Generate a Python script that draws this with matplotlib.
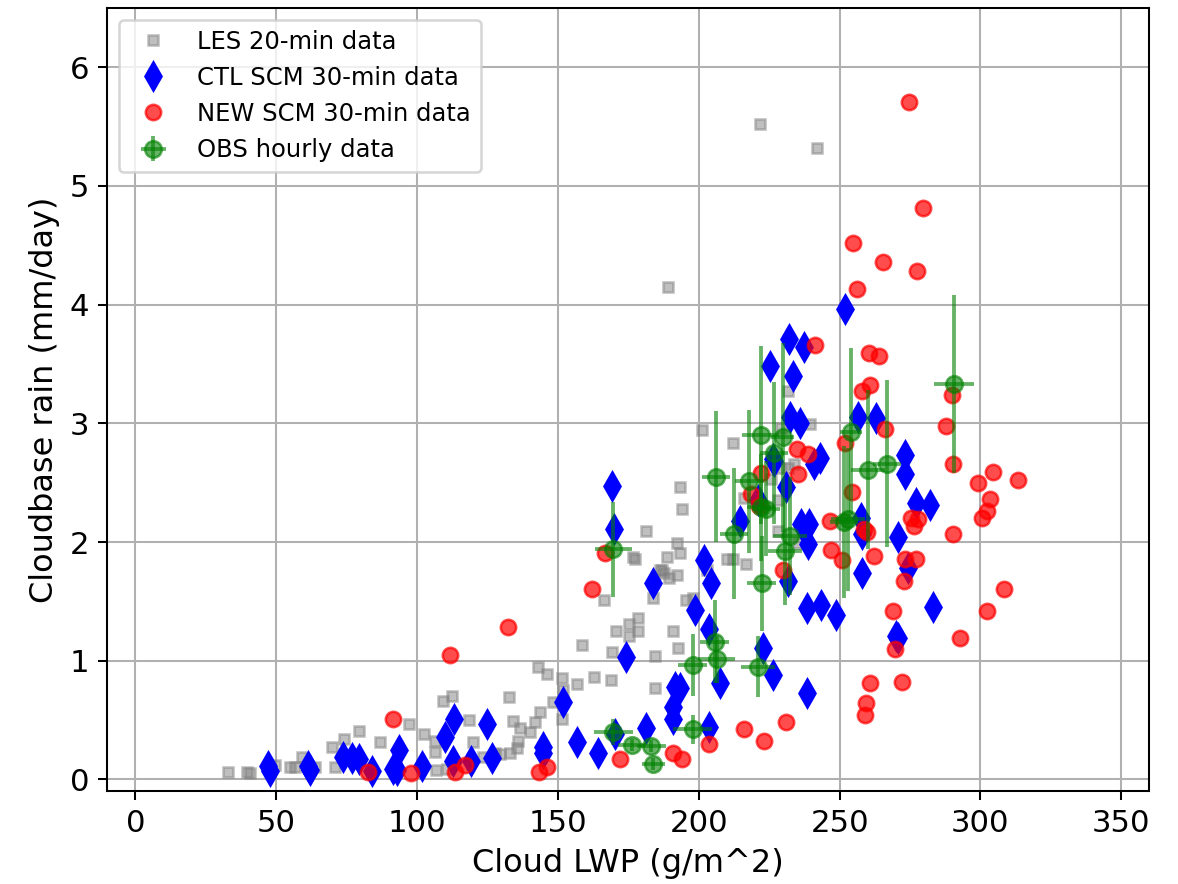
import numpy as np
import matplotlib
matplotlib.use("Agg")
import matplotlib.pyplot as plt

# LES 20-min data
les_lwp = [32.7, 39.5, 40.5, 49.4, 54.8, 56.6, 59.0, 63.7, 69.7, 70.8, 74.0, 79.3, 78.6,
           86.8, 97.1, 102.4, 106.4, 106.4, 109.2, 112.4, 118.5, 119.9, 106.7, 110.6,
           123.4, 127.7, 129.5, 133.0, 135.5, 135.9, 140.2, 136.6, 134.1, 142.0, 143.7,
           151.5, 148.3, 151.9, 132.7, 184.6, 169.0, 162.9, 156.9, 151.5, 146.2, 143.0,
           184.3, 192.8, 169.3, 158.6, 190.7, 170.7, 178.6, 175.4, 175.4, 178.6, 198.1,
           195.3, 183.9, 166.5, 192.4, 189.6, 187.5, 187.1, 177.2, 188.9, 193.2, 192.4,
           181.4, 193.9, 193.5, 201.0, 212.0, 189.2, 231.6, 239.4, 229.1, 229.1, 231.6,
           233.7, 225.5, 215.9, 228.0, 228.0, 235.1, 210.2, 212.0, 216.6, 186.4, 176.8,
           203.0, 221.6, 241.9]
les_rain = [0.06, 0.06, 0.05, 0.12, 0.10, 0.10, 0.19, 0.10, 0.27, 0.10, 0.34, 0.41, 0.18,
            0.31, 0.47, 0.38, 0.32, 0.23, 0.66, 0.70, 0.50, 0.31, 0.08, 0.09,
            0.19, 0.22, 0.21, 0.22, 0.26, 0.32, 0.40, 0.43, 0.49, 0.48, 0.57,
            0.51, 0.65, 0.75, 0.69, 0.77, 0.84, 0.86, 0.80, 0.85, 0.89, 0.95,
            1.04, 1.11, 1.07, 1.13, 1.25, 1.25, 1.25, 1.21, 1.31, 1.36, 1.53,
            1.51, 1.53, 1.51, 1.72, 1.70, 1.74, 1.76, 1.86, 1.87, 1.91, 1.99,
            2.09, 2.28, 2.46, 2.94, 2.83, 4.15, 3.27, 2.99, 2.96, 2.62, 2.62,
            2.66, 2.53, 2.37, 2.35, 2.09, 1.99, 1.86, 1.86, 1.81, 1.76, 1.87,
            1.76, 5.52, 5.32]

# CTL SCM 30-min data
ctl_lwp = [47.0, 47.7, 61.2, 61.9, 73.6, 76.8, 79.3, 83.9, 91.4, 93.6, 92.8, 101.7,
           109.9, 113.1, 112.8, 119.2, 124.9, 126.6, 169.3, 170.0, 183.6, 202.0, 204.5,
           198.5, 203.5, 174.3, 191.4, 193.2, 207.4, 190.7, 191.0, 181.4, 170.4, 203.8,
           151.9, 156.9, 164.3, 144.8, 144.8, 214.8, 226.2, 222.7, 226.2, 231.9, 237.3,
           225.2, 233.4, 251.9, 232.3, 235.8, 256.5, 262.9, 226.6, 243.0, 240.8, 230.9,
           236.2, 239.0, 238.7, 257.5, 257.9, 257.9, 273.2, 273.2, 277.1, 282.1, 270.7,
           274.3, 231.6, 238.3, 243.3, 248.6, 283.2, 270.0, 270.7, 238.3, 221.0]
ctl_rain = [0.11, 0.07, 0.11, 0.08, 0.19, 0.18, 0.17, 0.07, 0.09, 0.25, 0.08, 0.11,
            0.36, 0.51, 0.15, 0.15, 0.47, 0.18, 2.47, 2.11, 1.65, 1.85, 1.65,
            1.43, 1.27, 1.03, 0.78, 0.77, 0.81, 0.61, 0.51, 0.43, 0.38, 0.44,
            0.65, 0.31, 0.22, 0.27, 0.22, 2.18, 2.70, 1.11, 0.88, 3.71, 3.64,
            3.48, 3.40, 3.96, 3.05, 3.00, 3.05, 3.04, 2.68, 2.71, 2.66, 2.46,
            2.15, 2.15, 1.98, 2.20, 2.07, 1.74, 2.73, 2.57, 2.33, 2.31, 2.04,
            1.78, 1.67, 1.44, 1.47, 1.38, 1.45, 1.21, 1.19, 0.73, 2.35]

# NEW SCM 30-min data
new_lwp = [111.7, 91.4, 82.5, 97.8, 113.5, 117.0, 132.3, 162.2, 166.8, 143.4, 146.2,
           172.2, 191.0, 194.2, 203.8, 215.9, 223.0, 222.0, 218.4, 221.3, 256.1, 241.2,
           260.4, 263.9, 257.9, 260.7, 234.8, 238.7, 251.9, 235.1, 254.3, 246.5, 246.9,
           250.8, 262.2, 229.8, 258.6, 259.7, 290.0, 287.8, 290.3, 266.1, 304.5, 313.4,
           299.2, 303.4, 302.4, 300.6, 290.3, 275.3, 277.8, 276.4, 273.2, 277.1, 272.8,
           308.4, 302.4, 292.7, 268.9, 269.6, 260.7, 272.1, 259.3, 259.0, 230.9, 274.6,
           279.6, 254.7, 265.4, 277.4]
new_rain = [1.05, 0.51, 0.06, 0.05, 0.06, 0.12, 1.28, 1.60, 1.91, 0.06, 0.10,
            0.17, 0.22, 0.17, 0.30, 0.42, 0.32, 2.58, 2.40, 2.30, 4.13, 3.66,
            3.59, 3.57, 3.27, 3.32, 2.78, 2.74, 2.83, 2.57, 2.42, 2.18, 1.93,
            1.85, 1.88, 1.76, 2.11, 2.08, 3.24, 2.98, 2.66, 2.95, 2.59, 2.52,
            2.50, 2.36, 2.26, 2.20, 2.07, 2.20, 2.19, 2.13, 1.86, 1.86, 1.67,
            1.60, 1.42, 1.19, 1.42, 1.10, 0.81, 0.82, 0.64, 0.54, 0.48, 5.71,
            4.81, 4.52, 4.36, 4.28]

# OBS hourly data
obs_lwp = [169.7, 206.0, 218.0, 222.0, 229.8, 226.6, 222.0, 223.8, 212.4, 232.3, 230.5,
           222.3, 254.0, 260.0, 266.8, 253.0, 251.5, 290.6, 205.6, 206.3, 197.8, 220.9,
           169.7, 197.8, 176.4, 183.2, 183.9]
obs_rain = [1.94, 2.55, 2.51, 2.90, 2.88, 2.75, 2.29, 2.28, 2.07, 2.05, 1.92,
            1.65, 2.93, 2.61, 2.66, 2.19, 2.17, 3.33, 1.16, 1.01, 0.96, 0.95,
            0.40, 0.42, 0.29, 0.28, 0.13]
obs_lwp_err = [6.5, 5, 5, 6.5, 4, 5, 5, 5, 5, 6, 6,
               5, 4, 6, 5, 6, 5, 7, 5, 6.5, 5, 6,
               7, 7, 5, 5, 4]
obs_rain_err = [0.40, 0.55, 0.60, 0.75, 0.80, 0.60, 0.45, 0.40, 0.55, 0.50, 0.45,
                0.40, 0.70, 0.67, 0.70, 0.60, 0.64, 0.75, 0.35, 0.20, 0.26, 0.26,
                0.11, 0.12, 0.05, 0.05, 0.05]

fig = plt.figure(figsize=(6.4, 4.8), dpi=184.2)
ax = fig.add_axes([0.091, 0.105, 0.884, 0.886])

ax.plot(les_lwp, les_rain, 's', color='grey', alpha=0.5, markersize=4,
        label='LES 20-min data')
ax.plot(ctl_lwp, ctl_rain, 'bd', markersize=7.5, label='CTL SCM 30-min data')
ax.plot(new_lwp, new_rain, 'ro', alpha=0.7, markersize=6, label='NEW SCM 30-min data')
ax.errorbar(obs_lwp, obs_rain, xerr=obs_lwp_err, yerr=obs_rain_err, fmt='go',
            alpha=0.6, markersize=6.5, elinewidth=1.5, label='OBS hourly data')

ax.set_xlim(-10, 360)
ax.set_ylim(-0.1, 6.5)
ax.set_xticks(np.arange(0, 351, 50))
ax.set_yticks(np.arange(0, 7, 1))
ax.tick_params(labelsize=12)
ax.grid(True)
ax.set_xlabel('Cloud LWP (g/m^2)', fontsize=12.5)
ax.set_ylabel('Cloudbase rain (mm/day)', fontsize=12.5)
ax.legend(loc='upper left', fontsize=9.5)

fig.savefig('out.png', dpi=184.2)
